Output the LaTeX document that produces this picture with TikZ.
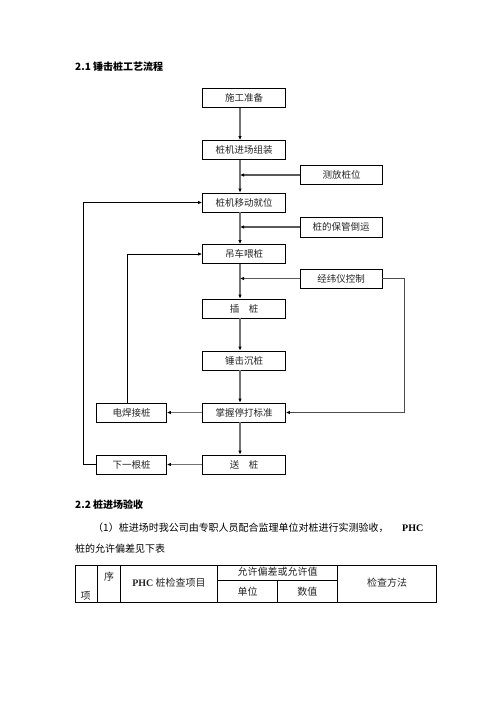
\documentclass[tikz,border=0pt]{standalone}
\usepackage{fontspec}
\setmainfont{Liberation Serif}
\newfontfamily\cjk{Noto Sans CJK SC}
\usetikzlibrary{arrows.meta}
\begin{document}
\begin{tikzpicture}[x=1pt,y=-1pt,
  box/.style={draw=black, line width=0.8pt, minimum width=83pt, minimum height=19pt, inner sep=0pt,
    font=\cjk\fontsize{9.5}{11}\selectfont, text=black!85},
  sbox/.style={box, minimum width=70pt},
  flow/.style={draw=black!55, line width=1.6pt, -{Latex[length=4pt,width=3.5pt,color=black]}},
  feed/.style={draw=black!65, line width=1.2pt, -{Latex[length=4pt,width=3.5pt,color=black]}},
  loop/.style={draw=black, line width=0.8pt, -{Latex[length=4pt,width=3.5pt,color=black]}},
  txt/.style={inner sep=0pt, anchor=west, font=\cjk\fontsize{10}{12}\selectfont},
  head/.style={inner sep=0pt, anchor=west, font=\cjk\bfseries\fontsize{10}{12}\selectfont},
  cell/.style={inner sep=0pt, font=\cjk\fontsize{10}{12}\selectfont, text=black!85}
]
\useasboundingbox[fill=white] (0,0) rectangle (496,702);

% headings
\node[head] (h1) at (75,67) {2.1 锤击桩工艺流程};

% main column
\node[box] (m1) at (244,98) {施工准备};
\node[box] (m2) at (244,150) {桩机进场组装};
\node[box] (m3) at (244,202.5) {桩机移动就位};
\node[box] (m4) at (244,254) {吊车喂桩};
\node[box] (m5) at (244,308.5) {插\quad 桩};
\node[box] (m6) at (244,360.5) {锤击沉桩};
\node[box] (m7) at (244,412.5) {掌握停打标准};
\node[box] (m8) at (244,464.5) {送\quad 桩};

% side boxes
\node[box, minimum width=82pt] (s1) at (341.5,175) {测放桩位};
\node[box, minimum width=82pt, minimum height=20pt] (s2) at (341,227) {桩的保管倒运};
\node[box, minimum width=82pt] (s3) at (341,278.5) {经纬仪控制};
\node[sbox] (l1) at (131.5,412.5) {电焊接桩};
\node[sbox] (l2) at (131.5,464.5) {下一根桩};

\coordinate (spine) at (240,0);
\coordinate (rx) at (404,0);
\coordinate (lx) at (83,0);
\coordinate (wx) at (127,0);

% spine arrows
\foreach \a/\b in {m1/m2,m2/m3,m3/m4,m4/m5,m5/m6,m6/m7,m7/m8}
  \draw[flow] (\a.south -| spine) -- (\b.north -| spine);

% feeds
\draw[feed] (s1.west) -- (s1.west -| spine);
\draw[feed] (s2.west) -- (s2.west -| spine);
\draw[feed] (s3.west) -- (s3.west -| spine);
\draw[draw=black!70, line width=1pt, -{Latex[length=4pt,width=3.5pt,color=black]}]
  (s3.east) -- (s3.east -| rx) -- (m7.east -| rx) -- (m7.east);

% left
\draw[flow] (m7.west) -- (l1.east);
\draw[flow] (m8.west) -- (l2.east);
\draw[loop] (l1.north -| wx) -- (m4.west -| wx) -- (m4.west);
\draw[loop] (l2.west) -- (l2.west -| lx) -- (m3.west -| lx) -- (m3.west);

% section 2.2
\node[head] (h2) at (75,505) {2.2 桩进场验收};
\node[txt] (p1) at (93,528) {（1）桩进场时我公司由专职人员配合监理单位对桩进行实测验收，};
\node[inner sep=0pt, anchor=west, font=\bfseries\fontsize{10}{12}\selectfont] (p1b) at (402,528) {PHC};
\node[txt] (p2) at (75,549) {桩的允许偏差见下表};

% table
\draw[line width=0.8pt] (75,565) rectangle (436.7,602);
\foreach \x in {97.7,120.7,217.7,337.3} \draw[line width=0.8pt] (\x,565) -- (\x,602);
\draw[line width=0.8pt] (217.7,580) -- (337.3,580);
\draw[line width=0.8pt] (277.3,580) -- (277.3,602);
\node[cell] (t1) at (85.5,596) {项};
\node[cell] (t2) at (109,577) {序};
\node[cell] (t3) at (169,583) {{\rmfamily\bfseries PHC} 桩检查项目};
\node[cell] (t4) at (277.5,572) {允许偏差或允许值};
\node[cell] (t5) at (247.5,592) {单位};
\node[cell] (t6) at (307.3,592) {数值};
\node[cell] (t7) at (387,583) {检查方法};
\end{tikzpicture}
\end{document}
